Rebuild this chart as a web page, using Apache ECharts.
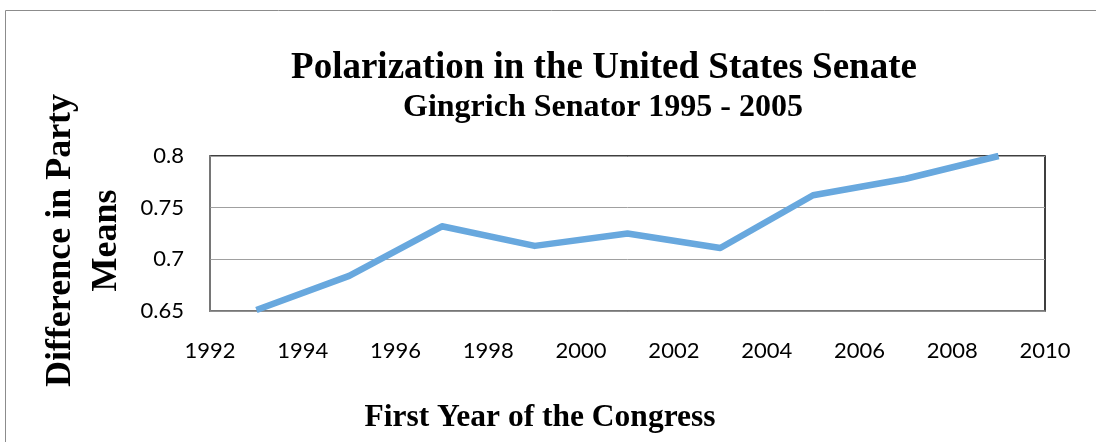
<!DOCTYPE html>
<html><head><meta charset="utf-8">
<script src="https://cdn.jsdelivr.net/npm/echarts@6/dist/echarts.min.js"></script>
<style>html,body{margin:0;padding:0;background:#fff}#c{width:1096px;height:442px}</style>
</head><body><div id="c"></div>
<script>
const years = [1993, 1995, 1997, 1999, 2001, 2003, 2005, 2007, 2009];
const partyDiff = [0.651, 0.684, 0.732, 0.713, 0.725, 0.711, 0.762, 0.778, 0.800];
const yTicks = [0.65, 0.7, 0.75, 0.8];
const xRange = [1992, 2010];

const chart = echarts.init(document.getElementById('c'), null, {renderer: 'canvas'});
const serif = '"Liberation Serif", "Times New Roman", serif';
chart.setOption({
  animation: false,
  backgroundColor: '#fff',
  graphic: [{
    type: 'rect', left: 3, top: 8, z: -10, silent: true,
    shape: {x: 0, y: 0, width: 1200, height: 600},
    style: {fill: 'none', stroke: '#8c8c8c', lineWidth: 1}
  }],
  title: [{
    text: 'Polarization in the United States Senate',
    left: 599, top: 45, textAlign: 'center',
    textStyle: {fontFamily: serif, fontWeight: 'bold', fontSize: 37, color: '#000'}
  }, {
    text: 'Gingrich Senator 1995 - 2005',
    left: 598, top: 87, textAlign: 'center',
    textStyle: {fontFamily: serif, fontWeight: 'bold', fontSize: 32, color: '#000'}
  }, {
    text: 'First Year of the Congress',
    left: 535, top: 397, textAlign: 'center',
    textStyle: {fontFamily: serif, fontWeight: 'bold', fontSize: 31.5, color: '#000'}
  }],
  grid: {left: 210, right: 51, top: 156, bottom: 131, show: true, borderColor: '#000', borderWidth: 1.5, backgroundColor: '#fff'},
  xAxis: {
    type: 'value', min: xRange[0], max: xRange[1], interval: 2,
    axisLine: {show: true, lineStyle: {color: '#8a8a8a', width: 1.5}},
    axisTick: {show: false},
    splitLine: {show: false},
    axisLabel: {margin: 29, fontFamily: 'Lato', fontSize: 22, color: '#000', formatter: v => String(v)}
  },
  yAxis: {
    type: 'value', min: yTicks[0], max: yTicks[yTicks.length - 1], interval: 0.05,
    name: 'Difference in Party\nMeans',
    nameLocation: 'middle', nameGap: 61,
    nameTextStyle: {fontFamily: serif, fontWeight: 'bold', fontSize: 36, color: '#000', lineHeight: 46, align: 'center', padding: [0, 14, 0, 0]},
    axisLine: {show: true, lineStyle: {color: '#8a8a8a', width: 1.5}},
    axisTick: {show: false},
    splitLine: {show: true, lineStyle: {color: '#a0a0a0', width: 1}},
    axisLabel: {margin: 26, fontFamily: 'Lato', fontSize: 22, color: '#000', padding: [8, 0, 0, 0],
      formatter: v => String(Math.round(v * 100) / 100)}
  },
  series: [{
    type: 'line',
    data: years.map((y, i) => [y, partyDiff[i]]),
    symbol: 'none',
    clip: true,
    lineStyle: {color: '#68a8de', width: 6.5, cap: 'butt', join: 'round'}
  }]
});
</script></body></html>
